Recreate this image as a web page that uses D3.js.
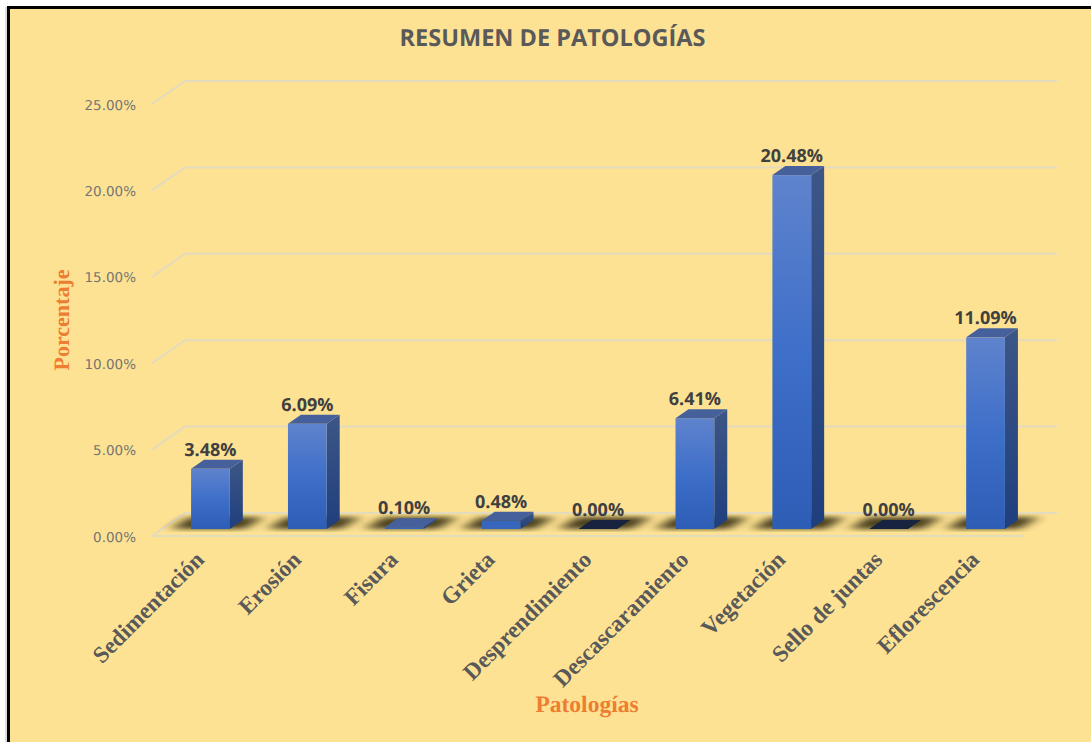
<!DOCTYPE html>
<html><head><meta charset="utf-8">
<script src="https://cdn.jsdelivr.net/npm/d3@7/dist/d3.min.js"></script>
<style>html,body{margin:0;padding:0;background:#fff;overflow:hidden}svg{display:block}text{text-rendering:geometricPrecision}</style>
</head><body><svg id="c" width="1091" height="742"></svg>
<script>
const categories=["Sedimentación","Erosión","Fisura","Grieta","Desprendimiento","Descascaramiento","Vegetación","Sello de juntas","Eflorescencia"];
const values=[3.48,6.09,0.10,0.48,0.00,6.41,20.48,0.00,11.09];
const yTicks=[0,5,10,15,20,25];
const titleText="RESUMEN DE PATOLOGÍAS";
const xTitle="Patologías";
const yTitle="Porcentaje";

const W=1091,H=742,dxWall=33,dyWall=23,dxBar=13,dyBar=9;
const svg=d3.select("#c");
const defs=svg.append("defs");
function grad(id,stops){const g=defs.append("linearGradient").attr("id",id).attr("x1",0).attr("y1",0).attr("x2",0).attr("y2",1);
 stops.forEach(s=>g.append("stop").attr("offset",s[0]).attr("stop-color",s[1]));}
grad("front",[[0,"#5F83CD"],[0.5,"#3E6FC9"],[1,"#2D5DB5"]]);
grad("side",[[0,"#3D5687"],[1,"#1F3F7D"]]);
defs.append("filter").attr("id","blur").attr("x","-40%").attr("y","-100%").attr("width","180%").attr("height","300%")
  .append("feGaussianBlur").attr("stdDeviation","7 2.4");
defs.append("clipPath").attr("id","floorClip").append("rect").attr("x",140).attr("y",514).attr("width",930).attr("height",18);

// background + frame
svg.append("rect").attr("x",5).attr("y",7).attr("width",3).attr("height",H).attr("fill","#DDDDDD");
svg.append("rect").attr("x",8).attr("y",7).attr("width",W).attr("height",H).attr("fill","#FEE294");
svg.append("path").attr("d",`M8.5 ${H} V7.5 H${W}`).attr("fill","none").attr("stroke","#000").attr("stroke-width",3);

const y=d3.scaleLinear().domain([0,25]).range([536,104]);
const x=d3.scaleBand().domain(categories).range([152,1024]).paddingInner(0.6).paddingOuter(0.3);
const gridColor="#E3DBBE";
const grid=svg.append("g").attr("fill","none").attr("stroke",gridColor).attr("stroke-width",2);
yTicks.forEach(t=>{
  const yy=y(t);
  grid.append("path").attr("d",`M152 ${yy} L${152+dxWall} ${yy-dyWall} H1057`);
});
grid.append("path").attr("d",`M152 ${y(0)} H1024`);

const sans="'Open Sans','Noto Sans',sans-serif";
const serif="'Liberation Serif',serif";
svg.append("g").selectAll("text").data(yTicks).join("text")
 .attr("x",136).attr("y",d=>y(d)+5.5).attr("text-anchor","end")
 .attr("font-family","'DejaVu Sans',sans-serif").attr("font-size",13.5).attr("fill","#757570")
 .text(d=>d3.format(".2f")(d)+"%");

// shadows
const baseY=v=>y(v)-7;
const shadows=svg.append("g").attr("clip-path","url(#floorClip)").append("g").attr("filter","url(#blur)").attr("opacity",0.88);
categories.forEach(c=>{
  const bx=x(c)+10,b=baseY(0);
  shadows.append("path").attr("d",`M${bx-20} ${b} L${bx+54} ${b} L${bx+72} ${b-12} L${bx-2} ${b-12}Z`).attr("fill","#33290F");
});

// bars
const bars=svg.append("g");
categories.forEach((c,i)=>{
  const v=values[i],bw=x.bandwidth(),bx=x(c)+10,b=baseY(0),t=baseY(v);
  const g=bars.append("g");
  if(b-t>0.5){
   g.append("path").attr("d",`M${bx+bw} ${t} l${dxBar} ${-dyBar} V${b-dyBar} L${bx+bw} ${b}Z`).attr("fill","url(#side)");
   g.append("rect").attr("x",bx).attr("y",t).attr("width",bw).attr("height",b-t).attr("fill",b-t>10?"url(#front)":"#3766BD");
  }
  g.append("path").attr("d",`M${bx} ${t} l${dxBar} ${-dyBar} h${bw} l${-dxBar} ${dyBar}Z`).attr("fill",v===0?"#18233F":"#45609B");
});

// data labels
svg.append("g").selectAll("text").data(categories).join("text")
 .attr("x",d=>x(d)+x.bandwidth()/2+10).attr("y",(d,i)=>baseY(values[i])-dyBar-4)
 .attr("text-anchor","middle").attr("font-family",sans).attr("font-weight",700).attr("font-size",18).attr("fill","#404040")
 .text((d,i)=>values[i].toFixed(2)+"%");

// category labels
svg.append("g").selectAll("text").data(categories).join("text")
 .attr("transform",d=>`translate(${x(d)+x.bandwidth()/2+5},561) rotate(-45)`)
 .attr("text-anchor","end").attr("font-family",serif).attr("font-weight",700).attr("font-size",23.3).attr("fill","#595959")
 .text(d=>d);

svg.append("text").attr("x",552.5).attr("y",46).attr("text-anchor","middle").attr("font-family",sans).attr("font-weight",700).attr("font-size",23.5).attr("fill","#595959").text(titleText);
svg.append("text").attr("x",587).attr("y",712).attr("text-anchor","middle").attr("font-family",serif).attr("font-weight",700).attr("font-size",23.5).attr("fill","#ED7D31").text(xTitle);
svg.append("text").attr("transform","translate(69,320) rotate(-90)").attr("text-anchor","middle").attr("font-family",serif).attr("font-weight",700).attr("font-size",22).attr("fill","#ED7D31").text(yTitle);
</script></body></html>
